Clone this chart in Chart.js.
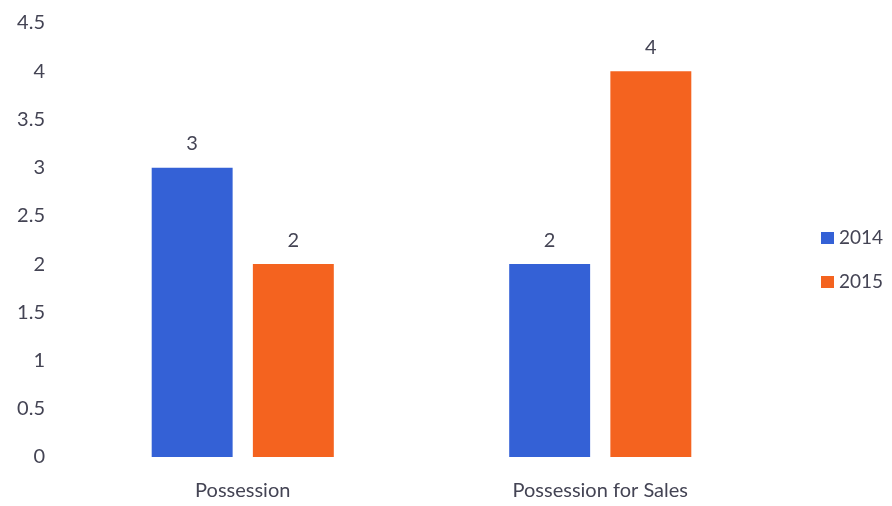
<!DOCTYPE html>
<html>
<head>
<meta charset="utf-8">
<script src="https://cdn.jsdelivr.net/npm/chart.js@4"></script>
<style>
  html, body { margin: 0; padding: 0; background: #fff; }
  #wrap { width: 892px; height: 506px; }
</style>
</head>
<body>
<div id="wrap"><canvas id="chart"></canvas></div>
<script>
const categories = ['Possession', 'Possession for Sales'];
const seriesNames = ['2014', '2015'];
const values2014 = [3, 2];
const values2015 = [2, 4];
const colors = ['#3461d6', '#f4631f'];

const textColor = '#444454';
const fontFamily = 'Lato, "Open Sans", sans-serif';

// draws the value above each bar
const valueLabels = {
  id: 'valueLabels',
  afterDatasetsDraw(chart) {
    const ctx = chart.ctx;
    ctx.save();
    ctx.fillStyle = textColor;
    ctx.font = '20px ' + fontFamily;
    ctx.textAlign = 'center';
    ctx.textBaseline = 'middle';
    chart.data.datasets.forEach((ds, i) => {
      chart.getDatasetMeta(i).data.forEach((bar, j) => {
        ctx.fillText(ds.data[j], bar.x, bar.y - 24);
      });
    });
    ctx.restore();
  }
};

// simple legend on the right, square + year
const sideLegend = {
  id: 'sideLegend',
  afterDraw(chart) {
    const ctx = chart.ctx;
    const x = chart.chartArea.right + 42;
    ctx.save();
    ctx.font = '19px ' + fontFamily;
    ctx.textBaseline = 'middle';
    ctx.textAlign = 'left';
    chart.data.datasets.forEach((ds, i) => {
      const y = 238 + i * 44;
      ctx.fillStyle = ds.backgroundColor;
      ctx.fillRect(x, y - 6, 13, 12);
      ctx.fillStyle = textColor;
      ctx.fillText(ds.label, x + 18, y);
    });
    ctx.restore();
  }
};

new Chart(document.getElementById('chart'), {
  type: 'bar',
  data: {
    labels: categories,
    datasets: [
      { label: seriesNames[0], data: values2014, backgroundColor: colors[0] },
      { label: seriesNames[1], data: values2015, backgroundColor: colors[1] },
    ],
  },
  options: {
    responsive: true,
    maintainAspectRatio: false,
    animation: false,
    layout: { padding: { top: 5, right: 113, bottom: 0, left: 0 } },
    datasets: {
      bar: { barPercentage: 0.8, categoryPercentage: 0.566 },
    },
    scales: {
      x: {
        grid: { display: false },
        border: { display: false },
        ticks: { color: textColor, font: { family: fontFamily, size: 20 }, padding: 14 },
        afterFit(scale) { scale.height = 49; },
      },
      y: {
        min: 0,
        max: 4.5,
        grid: { display: false },
        border: { display: false },
        ticks: {
          stepSize: 0.5,
          color: textColor,
          font: { family: fontFamily, size: 20 },
          padding: 11,
          callback: (v) => String(v),
        },
        afterFit(scale) { scale.width = 64; },
      },
    },
    plugins: {
      tooltip: { enabled: false },
      legend: { display: false },
    },
  },
  plugins: [valueLabels, sideLegend],
});
</script>
</body>
</html>
